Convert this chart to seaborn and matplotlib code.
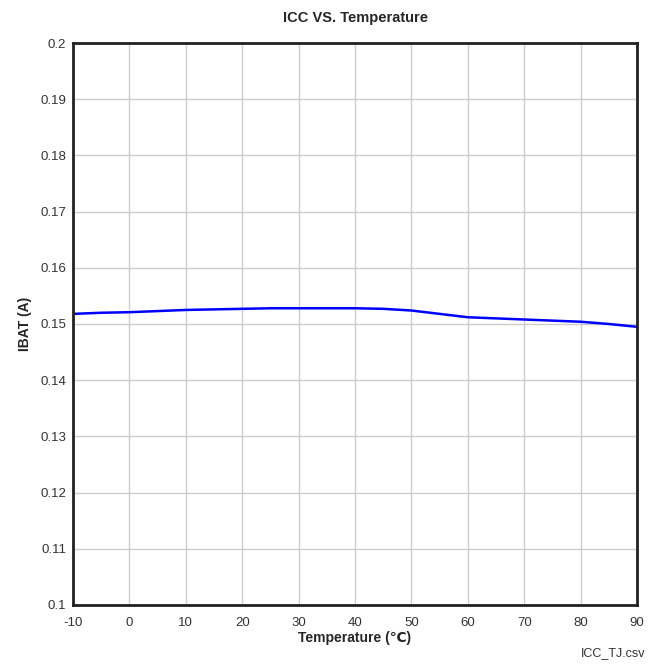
import matplotlib
matplotlib.use("Agg")
import matplotlib.pyplot as plt
import seaborn as sns
import pandas as pd

temperature = [-10, -5, 0, 5, 10, 15, 20, 25, 30, 35, 40, 45, 50, 55, 60, 65, 70, 75, 80, 85, 90]
ibat = [0.1518, 0.1520, 0.1521, 0.1523, 0.1525, 0.1526, 0.1527, 0.1528, 0.1528, 0.1528, 0.1528,
        0.1527, 0.1524, 0.1518, 0.1512, 0.1510, 0.1508, 0.1506, 0.1504, 0.1500, 0.1495]
x_ticks = [-10, 0, 10, 20, 30, 40, 50, 60, 70, 80, 90]
y_ticks = [0.1, 0.11, 0.12, 0.13, 0.14, 0.15, 0.16, 0.17, 0.18, 0.19, 0.2]
y_labels = ["0.1", "0.11", "0.12", "0.13", "0.14", "0.15", "0.16", "0.17", "0.18", "0.19", "0.2"]

sns.set_style("white")
plt.rcParams['font.family'] = ['Liberation Sans', 'DejaVu Sans']

df = pd.DataFrame({"Temperature": temperature, "IBAT": ibat})

fig = plt.figure(figsize=(6.64, 6.64), dpi=100)
ax = fig.add_axes([0.110, 0.0889, 0.8493, 0.8463])
sns.lineplot(data=df, x="Temperature", y="IBAT", ax=ax, color="#0000ff", linewidth=1.8)

ax.set_xlim(-10, 90)
ax.set_ylim(0.1, 0.2)
ax.set_xticks(x_ticks)
ax.set_xticklabels([str(t) for t in x_ticks])
ax.set_yticks(y_ticks)
ax.set_yticklabels(y_labels)
ax.grid(True, color="#cccccc", linewidth=1.0)
ax.set_axisbelow(True)
for s in ax.spines.values():
    s.set_color("#222222")
    s.set_linewidth(2.0)
ax.tick_params(axis="y", length=0, pad=5, labelsize=9.5, colors="#333333")
ax.tick_params(axis="x", length=0, pad=9, labelsize=9.5, colors="#333333")

ax.set_title("ICC VS. Temperature", fontsize=10.5, fontweight="bold", pad=15)
ax.set_xlabel("Temperature (\u2103)", fontsize=10, fontweight="bold", labelpad=1)
ax.set_ylabel("IBAT (A)", fontsize=10, fontweight="bold", labelpad=6)
fig.text(0.972, 0.008, "ICC_TJ.csv", ha="right", va="bottom", fontsize=9, color="#333333")

fig.savefig("out.png", dpi=100)
